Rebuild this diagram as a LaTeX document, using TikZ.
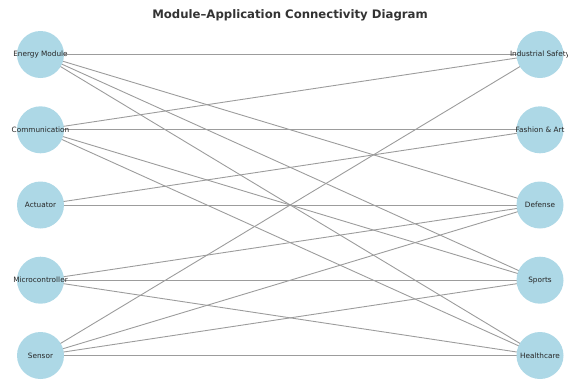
\documentclass[tikz,border=0pt]{standalone}
\usepackage{fontspec}
\setmainfont{DejaVu Sans}
\usetikzlibrary{backgrounds}
\definecolor{nodeblue}{HTML}{ADD8E6}
\definecolor{linkgray}{HTML}{9C9C9C}
\definecolor{titlegray}{HTML}{333333}
\begin{document}
\begin{tikzpicture}[x=1pt,y=-1pt,
  modnode/.style={circle, fill=nodeblue, minimum size=47pt, inner sep=0pt,
    label={[font=\fontsize{7.3}{9}\selectfont, text=black!85, inner sep=0pt]center:#1}},
  link/.style={draw=linkgray, line width=0.9pt}]
\useasboundingbox (0,0) rectangle (568,381);

\node[font=\bfseries\fontsize{11.7}{14}\selectfont, text=titlegray, anchor=base]
  (title) at (290,18.5) {Module–Application Connectivity Diagram};

% modules (left column)
\node[modnode={Energy Module}]   (energy) at (40.5,54.5)  {};
\node[modnode={Communication}]   (comm)   at (40.5,129.8) {};
\node[modnode={Actuator}]        (act)    at (40.5,205)   {};
\node[modnode={Microcontroller}] (micro)  at (40.5,280.2) {};
\node[modnode={Sensor}]          (sensor) at (40.5,355.5) {};

% applications (right column)
\node[modnode={Industrial Safety}] (indus)   at (540,54.5)  {};
\node[modnode={Fashion \& Art}]    (fashion) at (540,129.8) {};
\node[modnode={Defense}]           (defense) at (540,205)   {};
\node[modnode={Sports}]            (sports)  at (540,280.2) {};
\node[modnode={Healthcare}]        (health)  at (540,355.5) {};

% links, drawn beneath the circles
\begin{scope}[on background layer]
  \foreach \a/\b in {energy/indus, energy/defense, energy/sports, energy/health,
                     comm/indus, comm/fashion, comm/sports, comm/health,
                     act/fashion, act/defense,
                     micro/defense, micro/sports, micro/health,
                     sensor/indus, sensor/defense, sensor/sports, sensor/health}
    \draw[link] (\a.center) -- (\b.center);
\end{scope}
\end{tikzpicture}
\end{document}
